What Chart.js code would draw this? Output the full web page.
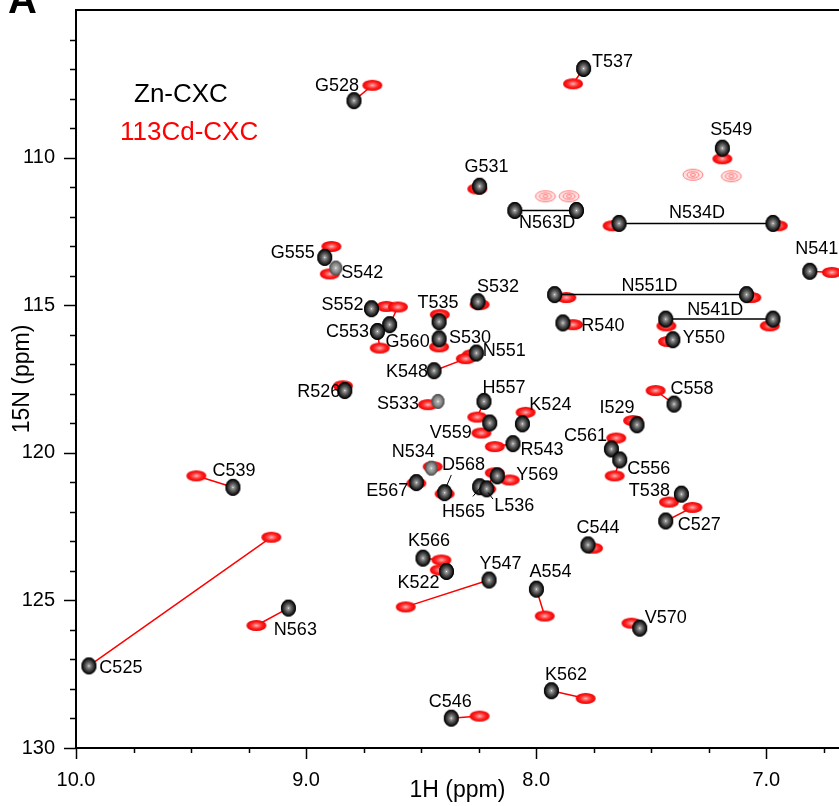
<!DOCTYPE html>
<html><head><meta charset="utf-8">
<script src="https://cdn.jsdelivr.net/npm/chart.js@4/dist/chart.umd.min.js"></script>
<style>html,body{margin:0;padding:0;background:#fff;overflow:hidden}canvas{display:block}</style>
</head><body>
<canvas id="c" width="839" height="806"></canvas>
<script>
// ---- DATA (ppm) ----
const residues = ['G528','T537','S549','G531','N541','G555','S542','S532','S552','G560','C553','T535','S530','R540','Y550','N551','K548','R526','S533','H557','V559','K524','R543','I529','C558','C561','C556','N534','D568','E567','Y569','H565','L536','T538','C527','C544','C539','C525','N563','K566','K522','Y547','A554','V570','K562','C546'];
const znH = [8.792,7.794,7.191,8.246,6.811,8.919,8.871,8.253,8.716,8.637,8.690,8.422,8.422,7.884,7.406,8.260,8.444,8.832,8.427,8.227,8.202,8.060,8.101,7.562,7.401,7.673,7.637,8.456,8.398,8.521,8.169,8.246,8.215,7.369,7.437,7.775,9.318,9.944,9.077,8.492,8.390,8.205,7.999,7.550,7.934,8.369];
const znN = [108.07,106.98,109.68,110.97,113.85,113.38,113.74,114.88,115.12,115.66,115.89,115.56,116.14,115.60,116.17,116.62,117.22,117.89,118.26,118.26,118.99,119.02,119.69,119.05,118.35,119.87,120.24,120.52,121.35,121.01,120.78,121.15,121.22,121.40,122.31,123.12,121.17,127.22,125.26,123.57,124.02,124.31,124.62,125.94,128.06,128.99];
const cdH = [8.712,7.840,7.191,8.256,6.715,8.890,8.897,8.246,8.651,8.601,8.680,8.419,8.422,7.840,7.427,8.280,8.306,8.840,8.470,8.256,8.238,8.046,8.180,7.579,7.481,7.652,7.659,8.450,8.398,8.521,8.115,8.217,8.180,7.423,7.321,7.753,9.477,9.151,9.216,8.412,8.419,8.567,7.963,7.586,7.785,8.246];
const cdN = [107.55,107.50,110.04,111.06,113.89,113.01,113.94,114.98,115.04,115.06,116.45,115.32,116.41,115.66,116.23,116.68,116.81,117.73,118.37,118.79,119.33,118.63,119.79,118.91,117.89,119.50,120.78,120.47,121.39,121.03,120.92,121.23,120.68,121.67,121.85,123.23,120.78,122.86,125.85,123.63,123.97,125.22,125.53,125.77,128.32,128.92];

// side-chain NH2 pairs
const sideChains = ['N563D','N534D','N551D','N541D'];
const scZnH1 = [8.093,7.640,7.920,7.437];
const scZnH2 = [7.825,6.971,7.086,6.971];
const scZnN  = [111.79,112.23,114.64,115.47];
const scCdH1 = [null,7.668,7.869,7.434];
const scCdH2 = [null,6.950,7.065,6.985];
const scCdN  = [null,112.31,114.74,115.70];

// unassigned 113Cd-CXC peaks
const extraCdH = [7.319,7.152,7.960,7.857];
const extraCdN = [110.58,110.63,111.31,111.31];

// axis ticks
const xMajorTicks = [10.0,9.0,8.0,7.0];
const yMajorTicks = [110,115,120,125,130];

// ---- LAYOUT / STYLE (kept apart from data) ----
const FONT = "'Liberation Sans', Arial, Helvetica, sans-serif";
const weakPeaks = new Set(['S542','S533','N534']);
const labelOffsets = {
 G528:[-17,-15], T537:[29,-6], S549:[9,-18], G531:[7,-19], N541:[7,-22], G555:[-32,-4], S542:[26.5,5], S532:[20,-15],
 S552:[-29,-4], G560:[18,17], C553:[-30,1], T535:[-1,-19], S530:[31,-1], R540:[40,3], Y550:[31,-2], N551:[28,-2],
 K548:[-27,1.5], R526:[-26,2], S533:[-40,3], H557:[20,-13], V559:[-39,10], K524:[28,-19], R543:[29,6], I529:[-20,-17],
 C558:[18,-15], C561:[-26,-12.6], C556:[29,9], N534:[-18,-16], D568:[19,-28], E567:[-29,8], Y569:[40,-1], H565:[-16,25],
 L536:[27.5,17], T538:[-32,-2.6], C527:[33.5,4], C544:[10,-17], C539:[1,-16], C525:[32,2], N563:[7,22], K566:[6,-17],
 K522:[-28,11.6], Y547:[11.5,-16], A554:[14,-17.6], V570:[26,-10], K562:[14.6,-15.7], C546:[-1,-16.6],
 N563D:[1.5,13], N534D:[1,-10.5], N551D:[-1,-9], N541D:[-4,-9]
};
const leaders = { D568:[6.7,-17.7,1.7,-6], H565:[-6.7,9.7,1.7,-0.3], L536:[6.3,10.3,1.3,3.7] };

// ---- peak glyphs ----
function glyph(rx, ry, stops, stroke) {
  const c = document.createElement('canvas');
  c.width = Math.ceil(2*rx+2); c.height = Math.ceil(2*ry+2);
  const g = c.getContext('2d');
  g.save();
  g.translate(c.width/2, c.height/2);
  g.scale(1, ry/rx);
  const gr = g.createRadialGradient(0,0,0,0,0,rx);
  stops.forEach(s => gr.addColorStop(s[0], s[1]));
  g.beginPath(); g.arc(0,0,rx,0,Math.PI*2);
  g.fillStyle = gr; g.fill();
  g.restore();
  if (stroke) {
    g.beginPath(); g.ellipse(c.width/2, c.height/2, rx-0.5, ry-0.5, 0, 0, Math.PI*2);
    g.strokeStyle = stroke; g.lineWidth = 1; g.stroke();
  }
  return c;
}
const blackImg = glyph(7.5, 8.5, [[0,'#f4f4f4'],[0.12,'#a0a0a0'],[0.45,'#5a5a5a'],[0.78,'#222'],[1,'#000']], '#000');
const weakImg  = glyph(6.5, 7.5, [[0,'#f4f4f4'],[0.2,'#b0b0b0'],[0.6,'#888'],[1,'#444']], '#555');
const redImg   = glyph(10, 5.5, [[0,'#ffc0c0'],[0.25,'#ff7070'],[0.6,'#ff2020'],[1,'#ee0000']], null);
const faintImg = (function(){
  const c = document.createElement('canvas'); c.width = 24; c.height = 14;
  const g = c.getContext('2d');
  g.strokeStyle = '#ff7a7a'; g.lineWidth = 1;
  g.fillStyle = '#ffe4e4';
  g.beginPath(); g.ellipse(12,7,10,5.5,0,0,Math.PI*2); g.fill(); g.stroke();
  g.beginPath(); g.ellipse(12,7,6,3.2,0,0,Math.PI*2); g.stroke();
  g.beginPath(); g.ellipse(12,7,2.5,1.5,0,0,Math.PI*2); g.stroke();
  return c;
})();

// ---- build datasets ----
const znPts = residues.map((r,i)=>({x:znH[i], y:znN[i]}));
const cdPts = residues.map((r,i)=>({x:cdH[i], y:cdN[i]}));
const scZnPts = [], scCdPts = [], scLine = [];
sideChains.forEach((s,i)=>{
  scZnPts.push({x:scZnH1[i],y:scZnN[i]},{x:scZnH2[i],y:scZnN[i]});
  if (scCdH1[i] !== null) scCdPts.push({x:scCdH1[i],y:scCdN[i]},{x:scCdH2[i],y:scCdN[i]});
  scLine.push({x:scZnH1[i],y:scZnN[i]},{x:scZnH2[i],y:scZnN[i]},{x:null,y:null});
});
const shiftLine = [];
residues.forEach((r,i)=>{ shiftLine.push({x:znH[i],y:znN[i]},{x:cdH[i],y:cdN[i]},{x:null,y:null}); });
const extraPts = extraCdH.map((h,i)=>({x:h,y:extraCdN[i]}));

const overlay = {
  id:'overlay',
  afterDatasetsDraw(chart){
    const ctx = chart.ctx, xs = chart.scales.x, ys = chart.scales.y;
    ctx.save();
    ctx.font = '18px ' + FONT; ctx.fillStyle = '#000';
    ctx.textAlign = 'center'; ctx.textBaseline = 'middle';
    residues.forEach((r,i)=>{
      const px = xs.getPixelForValue(znH[i]), py = ys.getPixelForValue(znN[i]);
      const o = labelOffsets[r]; if (!o) return;
      ctx.fillText(r, px+o[0], py+o[1]);
      const l = leaders[r];
      if (l) { ctx.beginPath(); ctx.moveTo(px+l[0],py+l[1]); ctx.lineTo(px+l[2],py+l[3]); ctx.strokeStyle='#000'; ctx.lineWidth=1; ctx.stroke(); }
    });
    sideChains.forEach((s,i)=>{
      const px = (xs.getPixelForValue(scZnH1[i]) + xs.getPixelForValue(scZnH2[i]))/2;
      const py = ys.getPixelForValue(scZnN[i]);
      const o = labelOffsets[s];
      ctx.fillText(s, px+o[0], py+o[1]);
    });
    ctx.restore();
  },
  afterDraw(chart){
    const ctx = chart.ctx, a = chart.chartArea, xs = chart.scales.x, ys = chart.scales.y;
    ctx.save();
    ctx.strokeStyle = '#000';
    // frame
    ctx.lineWidth = 2;
    ctx.beginPath();
    ctx.moveTo(a.right+2, a.top); ctx.lineTo(a.left, a.top); ctx.lineTo(a.left, a.bottom); ctx.lineTo(a.right+2, a.bottom);
    ctx.stroke();
    // ticks
    ctx.lineWidth = 1.5;
    for (let v = 10.0; v >= xs.min - 1e-9; v -= 0.25) {
      const px = Math.round(xs.getPixelForValue(v)) + 0.5;
      const major = xMajorTicks.some(t=>Math.abs(t-v)<1e-6);
      ctx.beginPath(); ctx.moveTo(px, a.bottom); ctx.lineTo(px, a.bottom + (major?11:5)); ctx.stroke();
    }
    for (let v = 106; v <= 130; v += 1) {
      const py = Math.round(ys.getPixelForValue(v)) + 0.5;
      const major = yMajorTicks.includes(v);
      ctx.beginPath(); ctx.moveTo(a.left, py); ctx.lineTo(a.left - (major?12:6), py); ctx.stroke();
    }
    // legend text
    ctx.textAlign = 'left'; ctx.textBaseline = 'alphabetic';
    ctx.font = '26px ' + FONT;
    ctx.fillStyle = '#000'; ctx.fillText('Zn-CXC', 134, 101.5);
    ctx.fillStyle = '#ff0000'; ctx.fillText('113Cd-CXC', 120, 139.5);
    // panel letter
    ctx.fillStyle = '#000'; ctx.font = 'bold 40px ' + FONT;
    ctx.fillText('A', 8, 13);
    ctx.restore();
  }
};

new Chart(document.getElementById('c'), {
  type: 'scatter',
  data: { datasets: [
    { label:'Zn-CXC', data: znPts, pointStyle: c => weakPeaks.has(residues[c.dataIndex]) ? weakImg : blackImg, pointRadius: 8, order: 0 },
    { label:'Zn side chains', data: scZnPts, pointStyle: blackImg, pointRadius: 8, order: 1 },
    { label:'side chain link', data: scLine, showLine: true, spanGaps: false, borderColor:'#000', borderWidth: 1.5, pointRadius: 0, order: 2 },
    { label:'113Cd-CXC', data: cdPts, pointStyle: redImg, pointRadius: 8, order: 3 },
    { label:'113Cd side chains', data: scCdPts, pointStyle: redImg, pointRadius: 8, order: 4 },
    { label:'113Cd unassigned', data: extraPts, pointStyle: faintImg, pointRadius: 8, order: 5 },
    { label:'shift', data: shiftLine, showLine: true, spanGaps: false, borderColor:'#ff0000', borderWidth: 1.5, pointRadius: 0, order: 6 }
  ]},
  options: {
    responsive: false, animation: false, events: [],
    layout: { autoPadding: false, padding: { top: 10, left: 0, right: 0, bottom: 0 } },
    plugins: { legend: { display: false }, tooltip: { enabled: false } },
    scales: {
      x: {
        type: 'linear', min: 6.684, max: 10.0, reverse: true,
        afterFit: s => { s.height = 58; s.paddingLeft = 0; s.paddingRight = 0; },
        afterBuildTicks: s => { s.ticks = xMajorTicks.map(v=>({value:v})); },
        grid: { display: false }, border: { display: false },
        ticks: { callback: v => Number(v).toFixed(1), font: { size: 20, family: FONT }, color: '#000', padding: 12, maxRotation: 0, autoSkip: false },
        title: { display: true, text: '1H (ppm)', font: { size: 23, family: FONT }, color: '#000', padding: { top: 0, bottom: 2 } }
      },
      y: {
        type: 'linear', min: 105, max: 130, reverse: true,
        afterFit: s => { s.width = 76; s.paddingTop = 0; s.paddingBottom = 0; },
        afterBuildTicks: s => { s.ticks = yMajorTicks.map(v=>({value:v})); },
        grid: { display: false }, border: { display: false },
        ticks: { font: { size: 20, family: FONT }, color: '#000', padding: 13, autoSkip: false },
        title: { display: true, text: '15N (ppm)', font: { size: 23, family: FONT }, color: '#000', padding: { top: 9, bottom: 0 } }
      }
    }
  },
  plugins: [overlay]
});
</script>
</body></html>
